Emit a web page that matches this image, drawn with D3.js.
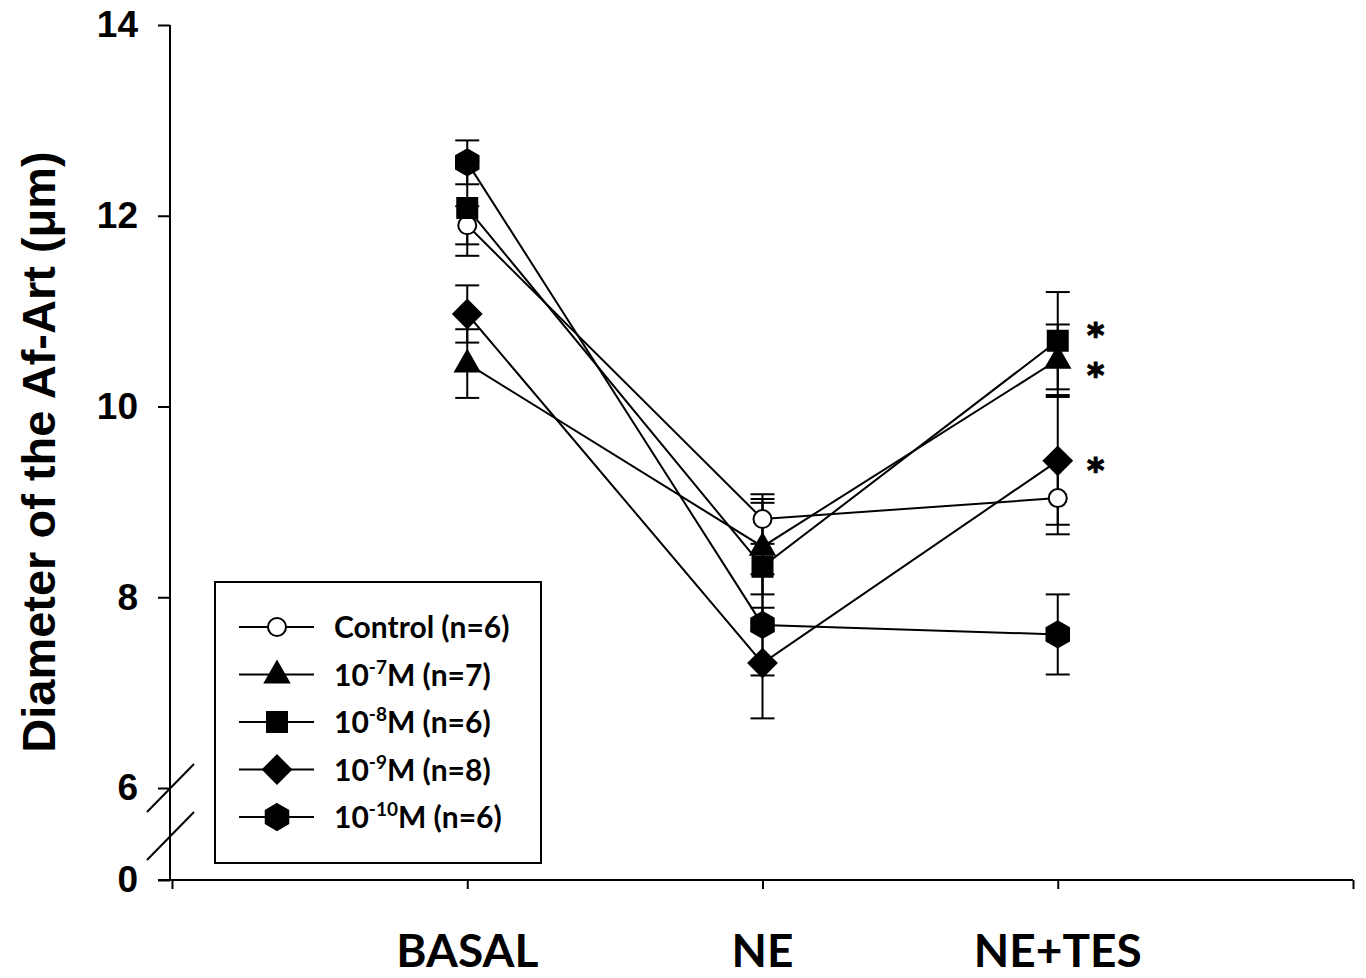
<!DOCTYPE html>
<html>
<head>
<meta charset="utf-8">
<script src="https://cdn.jsdelivr.net/npm/d3@7"></script>
<style>
  body { margin: 0; background: #fff; }
  svg { display: block; }
</style>
</head>
<body>
<div id="chart"></div>
<script>
// datos
const categories = ['BASAL', 'NE', 'NE+TES'];
const seriesNames = ['Control (n=6)', '10^-7M (n=7)', '10^-8M (n=6)', '10^-9M (n=8)', '10^-10M (n=6)'];
const seriesSymbols = ['circle', 'triangle', 'square', 'diamond', 'hexagon'];

const controlMean = [11.90, 8.82, 9.04];
const controlSE   = [0.20, 0.26, 0.38];
const e7Mean = [10.45, 8.53, 10.49];
const e7SE   = [0.36, 0.50, 0.37];
const e8Mean = [12.08, 8.32, 10.69];
const e8SE   = [0.50, 0.67, 0.51];
const e9Mean = [10.97, 7.31, 9.43];
const e9SE   = [0.30, 0.58, 0.67];
const e10Mean = [12.56, 7.71, 7.61];
const e10SE   = [0.23, 0.53, 0.42];

const means = [controlMean, e7Mean, e8Mean, e9Mean, e10Mean];
const errors = [controlSE, e7SE, e8SE, e9SE, e10SE];

const yTicks = [6, 8, 10, 12, 14];
// asteriscos junto a NE+TES (altura en unidades del eje)
const starValues = [10.82, 10.40, 9.41];

const width = 1366;
const height = 978;

const svg = d3.select('#chart').append('svg')
  .attr('width', width)
  .attr('height', height);

const x = d3.scaleLinear().domain([0, 4]).range([172, 1353]);
const y = d3.scaleLinear().domain([6, 14]).range([788, 25]);
const y0 = d3.scaleLinear().domain([0, 1]).range([880, 800]);

// simbolos
function symbolPath(type) {
  switch (type) {
    case 'circle': return d3.symbol().type(d3.symbolCircle).size(Math.PI * 9 * 9)();
    case 'square': return 'M-10,-10H10V10H-10Z';
    case 'triangle': return 'M0,-13L12,8L-12,8Z';
    case 'diamond': return 'M0,-14L14,0L0,14L-14,0Z';
    case 'hexagon': {
      const r = 13;
      const pts = d3.range(6).map(k => {
        const a = (-90 + 60 * k) * Math.PI / 180;
        return [r * Math.cos(a), r * Math.sin(a)];
      });
      return 'M' + pts.map(p => p.join(',')).join('L') + 'Z';
    }
  }
}

// ejes
const axisFont = '"Liberation Sans", Arial, sans-serif';

function styleAxis(g) {
  g.select('.domain').remove();
  g.selectAll('line').attr('stroke', '#000').attr('stroke-width', 2);
  g.selectAll('text')
    .attr('font-family', axisFont)
    .attr('font-weight', 'bold')
    .attr('font-size', 37)
    .attr('fill', '#000');
}

svg.append('g')
  .attr('transform', 'translate(170,0)')
  .call(d3.axisLeft(y).tickValues(yTicks).tickSize(12).tickSizeOuter(0).tickPadding(20).tickFormat(d3.format('d')))
  .call(styleAxis);

svg.append('g')
  .attr('transform', 'translate(170,0)')
  .call(d3.axisLeft(y0).tickValues([0]).tickSize(12).tickSizeOuter(0).tickPadding(20).tickFormat(d3.format('d')))
  .call(styleAxis);

// linea del eje y
svg.append('line')
  .attr('x1', 170).attr('x2', 170)
  .attr('y1', y(14)).attr('y2', y0(0))
  .attr('stroke', '#000').attr('stroke-width', 2);

// marcas de corte
[[812, 764], [860, 812]].forEach(([a, b]) => {
  svg.append('line')
    .attr('x1', 147).attr('y1', a)
    .attr('x2', 194).attr('y2', b)
    .attr('stroke', '#000').attr('stroke-width', 2);
});

const xAxis = svg.append('g')
  .attr('transform', `translate(0,${y0(0)})`)
  .call(d3.axisBottom(x).tickValues([0, 1, 2, 3, 4]).tickSize(9).tickSizeOuter(0).tickFormat(''));
xAxis.select('.domain').attr('stroke', '#000').attr('stroke-width', 2)
  .attr('d', `M158,0H${x(4)}`);
xAxis.selectAll('line').attr('stroke', '#000').attr('stroke-width', 2);

svg.append('g').selectAll('text')
  .data(categories)
  .enter().append('text')
  .attr('x', (d, i) => x(i + 1))
  .attr('y', 967)
  .attr('text-anchor', 'middle')
  .attr('font-family', 'Lato, "Open Sans", sans-serif')
  .attr('font-weight', 'bold')
  .attr('font-size', 46)
  .text(d => d);

// titulo del eje y
svg.append('text')
  .attr('transform', 'translate(55,452) rotate(-90)')
  .attr('text-anchor', 'middle')
  .attr('font-family', axisFont)
  .attr('font-weight', 'bold')
  .attr('font-size', 47)
  .text('Diameter of the Af-Art (\u03BCm)');

// lineas de series
const line = d3.line()
  .x((d, i) => x(i + 1))
  .y(d => y(d));

svg.append('g').selectAll('path')
  .data(means)
  .enter().append('path')
  .attr('d', d => line(d))
  .attr('fill', 'none')
  .attr('stroke', '#000')
  .attr('stroke-width', 2);

// barras de error
const errData = [];
means.forEach((m, s) => m.forEach((v, i) => errData.push({ s, i, v, e: errors[s][i] })));

const errG = svg.append('g')
  .attr('stroke', '#000')
  .attr('stroke-width', 2);

errData.forEach(d => {
  const cx = x(d.i + 1);
  errG.append('line')
    .attr('x1', cx).attr('x2', cx)
    .attr('y1', y(d.v + d.e)).attr('y2', y(d.v - d.e));
  [d.v + d.e, d.v - d.e].forEach(v => {
    errG.append('line')
      .attr('x1', cx - 12).attr('x2', cx + 12)
      .attr('y1', y(v)).attr('y2', y(v));
  });
});

// marcadores
svg.append('g').selectAll('path')
  .data(errData)
  .enter().append('path')
  .attr('transform', d => `translate(${x(d.i + 1)},${y(d.v)})`)
  .attr('d', d => symbolPath(seriesSymbols[d.s]))
  .attr('fill', d => seriesSymbols[d.s] === 'circle' ? '#fff' : '#000')
  .attr('stroke', '#000')
  .attr('stroke-width', 2);

// asteriscos
svg.append('g').selectAll('text')
  .data(starValues)
  .enter().append('text')
  .attr('x', x(3) + 38)
  .attr('y', v => y(v) + 19)
  .attr('text-anchor', 'middle')
  .attr('font-family', '"DejaVu Sans", sans-serif')
  .attr('font-weight', 'bold')
  .attr('font-size', 33)
  .attr('stroke', '#000')
  .attr('stroke-width', 1.2)
  .text('*');

// leyenda
const legend = svg.append('g');
legend.append('rect')
  .attr('x', 215).attr('y', 582)
  .attr('width', 326).attr('height', 281)
  .attr('fill', '#fff')
  .attr('stroke', '#000')
  .attr('stroke-width', 2);

const rowY = d3.scaleLinear().domain([0, 4]).range([627, 817]);

seriesNames.forEach((name, s) => {
  const ry = rowY(s);
  legend.append('line')
    .attr('x1', 239).attr('x2', 314)
    .attr('y1', ry).attr('y2', ry)
    .attr('stroke', '#000').attr('stroke-width', 2);
  legend.append('path')
    .attr('transform', `translate(277,${ry})`)
    .attr('d', symbolPath(seriesSymbols[s]))
    .attr('fill', seriesSymbols[s] === 'circle' ? '#fff' : '#000')
    .attr('stroke', '#000')
    .attr('stroke-width', 2);
  const t = legend.append('text')
    .attr('x', 334).attr('y', ry + 11)
    .attr('font-family', 'Lato, "Open Sans", sans-serif')
    .attr('font-weight', 'bold')
    .attr('font-size', 30);
  const m = name.match(/^10\^(-\d+)(.*)$/);
  if (m) {
    t.append('tspan').text('10');
    t.append('tspan').attr('dy', -12).attr('font-size', 19).text(m[1]);
    t.append('tspan').attr('dy', 12).text(m[2]);
  } else {
    t.text(name);
  }
});
</script>
</body>
</html>
